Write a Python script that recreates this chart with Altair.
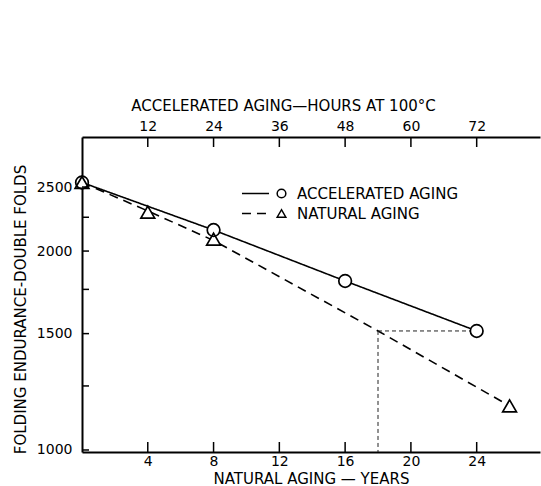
import altair as alt
import pandas as pd

# ---------------- data ----------------
SERIES = ["ACCELERATED AGING", "NATURAL AGING"]

acc_years = [0, 8, 16, 24]                 # natural-aging-year equivalent (hours / 3)
acc_folds = [2540, 2152, 1802, 1514]

nat_years = [0, 4, 8, 26]
nat_folds = [2540, 2291, 2085, 1166]

# vertices of the dashed (natural aging) curve
nat_line_years = [0, 4, 8, 18, 26]
nat_line_folds = [2540, 2300, 2075, 1514, 1166]

# dotted read-off lines
ref_year = [18]
ref_year_end = [24]
ref_folds = [1514]

x_ticks = [4, 8, 12, 16, 20, 24]
y_ticks = [1000, 1500, 2000, 2500]
y_minor = [1250, 1750, 2250]

X_DOMAIN = [0, 27.85]
Y_DOMAIN = [993, 2976]

W, H = 458, 315
FONT = "DejaVu Sans"

# ---------------- tables ----------------
pts = pd.DataFrame(
    {"year": acc_years + nat_years,
     "folds": acc_folds + nat_folds,
     "series": [SERIES[0]] * len(acc_years) + [SERIES[1]] * len(nat_years)}
)
lines = pd.DataFrame(
    {"year": acc_years + nat_line_years,
     "folds": acc_folds + nat_line_folds,
     "line_series": [SERIES[0]] * len(acc_years) + [SERIES[1]] * len(nat_line_years)}
)
ref_h = pd.DataFrame({"x": ref_year, "x2": ref_year_end, "y": ref_folds})
ref_v = pd.DataFrame({"x": ref_year, "y": ref_folds, "y2": [Y_DOMAIN[0]]})
xt = pd.DataFrame({"t": x_ticks})
yt = pd.DataFrame({"t": y_ticks + y_minor})

xscale = alt.Scale(domain=X_DOMAIN, nice=False, zero=False)
yscale = alt.Scale(type="log", domain=Y_DOMAIN, nice=False)

yaxis = alt.Axis(values=y_ticks, format="d", labelPadding=10, ticks=False,
                 title="FOLDING ENDURANCE-DOUBLE FOLDS", titleX=-57, titleY=172,
                 titleBaseline="alphabetic")


def Y(field):
    return alt.Y(field, scale=yscale, axis=yaxis)


def X(field, axis=None):
    return alt.X(field, scale=xscale, axis=axis)


LEG_Y = 49

# line-style legend (no domain given, so it stays separate from the marker legend)
line_layer = alt.Chart(lines).mark_line(color="black", strokeWidth=1.6).encode(
    x=X("year:Q"),
    y=Y("folds:Q"),
    strokeDash=alt.StrokeDash(
        "line_series:N",
        scale=alt.Scale(range=[[1, 0], [9, 6]]),
        legend=alt.Legend(title=None, orient="none", legendX=166, legendY=LEG_Y,
                          direction="vertical", symbolType="M-2.5,0L2.5,0",
                          symbolSize=117, symbolStrokeWidth=1.6,
                          symbolStrokeColor="black", symbolFillColor="transparent",
                          labelExpr="' '", labelFontSize=15, labelOffset=2,
                          rowPadding=4, padding=0),
    ),
)

ref_h_layer = alt.Chart(ref_h).mark_rule(color="#222", strokeWidth=1, strokeDash=[4, 3]).encode(
    x=X("x:Q"), x2="x2:Q", y=Y("y:Q"))
ref_v_layer = alt.Chart(ref_v).mark_rule(color="#222", strokeWidth=1, strokeDash=[4, 3]).encode(
    x=X("x:Q"), y=Y("y:Q"), y2="y2:Q")

shape_enc = alt.Shape(
    "series:N",
    scale=alt.Scale(domain=SERIES, range=["circle", "triangle-up"]),
    legend=alt.Legend(title=None, orient="none", legendX=192, legendY=LEG_Y,
                      direction="vertical", symbolSize=75, symbolStrokeWidth=1.5,
                      labelFont=FONT, labelFontSize=15, labelColor="black",
                      labelLimit=400, labelOffset=8, rowPadding=4, padding=0),
)

# white-filled bodies of the markers (so the lines do not show through)
circ_fill = alt.Chart(pts).transform_filter(alt.datum.series == SERIES[0]).mark_point(
    shape="circle", filled=True, fill="white", size=160, opacity=1
).encode(x=X("year:Q"), y=Y("folds:Q"))
tri_fill = alt.Chart(pts).transform_filter(alt.datum.series == SERIES[1]).mark_point(
    shape="triangle-up", filled=True, fill="white", size=190, opacity=1
).encode(x=X("year:Q"), y=Y("folds:Q"))

# outlines of the markers, carrying the marker legend
circ_layer = alt.Chart(pts).transform_filter(alt.datum.series == SERIES[0]).mark_point(
    filled=False, color="black", strokeWidth=1.7, size=160, opacity=1
).encode(x=X("year:Q"), y=Y("folds:Q"), shape=shape_enc)
tri_layer = alt.Chart(pts).transform_filter(alt.datum.series == SERIES[1]).mark_point(
    filled=False, color="black", strokeWidth=1.7, size=190, opacity=1
).encode(x=X("year:Q"), y=Y("folds:Q"), shape=shape_enc)

bottom_ticks = alt.Chart(xt).mark_rule(color="black", strokeWidth=1.5).encode(
    x=X("t:Q", alt.Axis(values=x_ticks, ticks=False, labelPadding=2,
                         title="NATURAL AGING — YEARS", titlePadding=3)),
    y=alt.value(H), y2=alt.value(H - 10))

top_ticks = alt.Chart(xt).mark_rule(color="black", strokeWidth=1.5).encode(
    x=X("t:Q", alt.Axis(orient="top", values=x_ticks, ticks=False, labelPadding=4,
                         labelExpr="format(datum.value * 3, 'd')",
                         title="ACCELERATED AGING—HOURS AT 100°C", titlePadding=6,
                         titleX=201, titleAlign="center")),
    y=alt.value(0), y2=alt.value(10))

left_ticks = alt.Chart(yt).mark_rule(color="black", strokeWidth=1.5).encode(
    y=Y("t:Q"), x=alt.value(0), x2=alt.value(7))

chart = (
    alt.layer(line_layer, ref_h_layer, ref_v_layer, circ_fill, tri_fill,
              circ_layer, tri_layer, bottom_ticks, top_ticks, left_ticks)
    .resolve_axis(x="independent")
    .properties(width=W, height=H, autosize=alt.AutoSizeParams(type="none"),
                padding={"left": 82, "top": 137, "right": 1, "bottom": 34},
                background="white")
    .configure_view(stroke=None)
    .configure_axis(domainColor="black", domainWidth=2, grid=False,
                    labelFont=FONT, labelFontSize=14, labelColor="black",
                    titleFont=FONT, titleFontSize=15, titleFontWeight="normal",
                    titleColor="black")
    .configure_legend(labelFont=FONT, labelColor="black")
)

chart.save("out.html", embed_options={"renderer": "svg", "actions": False})
